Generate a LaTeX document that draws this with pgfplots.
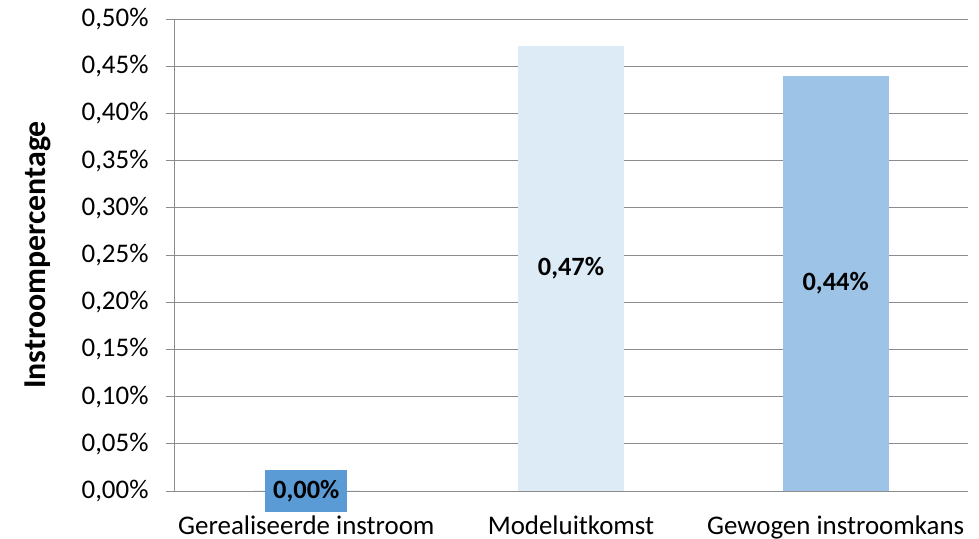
\documentclass[border=0pt]{standalone}
\usepackage{pgfplots}
\pgfplotsset{compat=1.18}
\usepackage{fontspec}
\setmainfont{Carlito}
\definecolor{barA}{HTML}{5B9BD5}
\definecolor{barB}{HTML}{DDEBF7}
\definecolor{barC}{HTML}{9DC3E6}
\definecolor{gridc}{HTML}{8C8C8C}

\begin{document}
\begin{tikzpicture}
\begin{axis}[
  scale only axis,
  width=794bp, height=472bp,
  xmin=-0.5, xmax=2.5, ymin=0, ymax=0.5,
  axis x line*=bottom, axis y line*=left,
  axis line style={gridc, line width=0.8bp, -},
  ytick={0,0.05,...,0.5},
  yticklabels={{0,00\%},{0,05\%},{0,10\%},{0,15\%},{0,20\%},{0,25\%},{0,30\%},{0,35\%},{0,40\%},{0,45\%},{0,50\%}},
  ymajorgrids, grid style={gridc, line width=0.8bp},
  xtick={0,1,2},
  xticklabels={Gerealiseerde instroom,Modeluitkomst,Gewogen instroomkans},
  major x tick style={draw=none},
  extra x ticks={-0.5,0.5,1.5,2.5},
  extra x tick labels={},
  extra x tick style={major tick length=8bp, tick align=outside, tick style={gridc, line width=0.8bp}, grid=none},
  major tick length=8bp, tick align=outside,
  y tick style={gridc, line width=0.8bp},
  tick label style={font=\fontsize{27}{29}\selectfont, text=black},
  yticklabel style={xshift=-14bp},
  xticklabel style={yshift=-13bp},
  ylabel={\textbf{Instroompercentage}},
  ylabel style={font=\fontsize{32}{34}\selectfont, at={(axis description cs:-0.1713,0.5)}, anchor=center},
  ybar, bar width=106bp, bar shift=0pt,
]
\addplot[fill=barA, draw=none] coordinates {(0,0)};
\addplot[fill=barB, draw=none] coordinates {(1,0.471)};
\addplot[fill=barC, draw=none] coordinates {(2,0.440)};
% data labels, centred in the bars
\addplot[draw=none, fill=none, bar width=0pt, nodes near coords, point meta=explicit symbolic,
  nodes near coords align=center,
  every node near coord/.append style={font=\fontsize{26.5}{28}\selectfont\bfseries, fill=barA, inner xsep=8bp, inner ysep=10bp}]
  coordinates {(0,0) [0,00\%]};
\addplot[draw=none, fill=none, bar width=0pt, nodes near coords, point meta=explicit symbolic,
  nodes near coords align=center,
  every node near coord/.append style={font=\fontsize{26.5}{28}\selectfont\bfseries}]
  coordinates {(1,0.2355) [0,47\%] (2,0.220) [0,44\%]};
\end{axis}
\pgfresetboundingbox
\path ([shift={(-174bp,-48bp)}]current axis.south west) rectangle ([shift={(11bp,19bp)}]current axis.north east);
\end{tikzpicture}
\end{document}
